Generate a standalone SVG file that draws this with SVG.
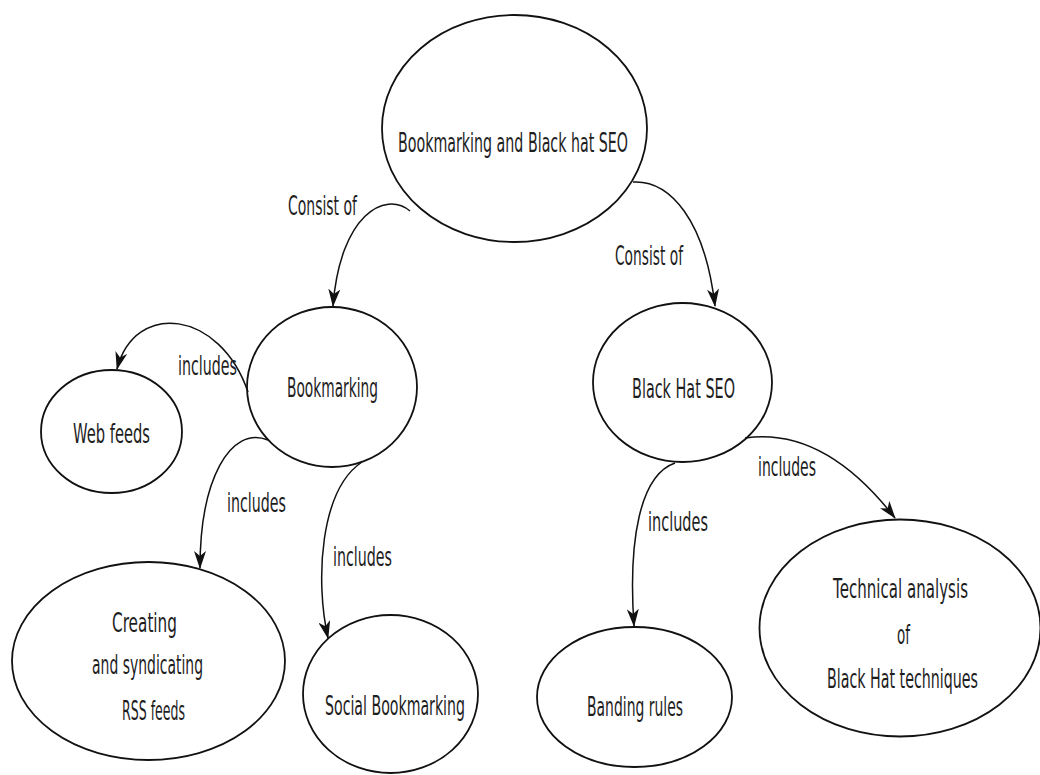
<svg xmlns="http://www.w3.org/2000/svg" width="1040" height="775" viewBox="0 0 1040 775">
  <style>
    .node ellipse { fill: none; stroke: #111; stroke-width: 1.8; }
    .lbl { font-family: "DejaVu Sans", "Liberation Sans", sans-serif; font-size: 27px; fill: #1e1e1e; text-anchor: middle; }
    .edge { fill: none; stroke: #111; stroke-width: 1.5; marker-end: url(#arrow); }
  </style>
  <defs>
    <!-- notched arrowhead shared by every connector -->
    <marker id="arrow" viewBox="0 0 18 12" refX="17" refY="6" markerWidth="18" markerHeight="12" markerUnits="userSpaceOnUse" orient="auto">
      <path d="M0,0 L18,6 L0,12 L5,6 z" fill="#111"/>
    </marker>
  </defs>
  <rect width="1040" height="775" fill="#fff"/>

  <!-- connectors with their labels -->
  <g id="connectors">
    <path class="edge" d="M410,211 C385,190 340,215 333,306"/>
    <text class="lbl" x="322.5" y="215" textLength="69" lengthAdjust="spacingAndGlyphs">Consist of</text>

    <path class="edge" d="M633,182 C670,180 705,220 715,306"/>
    <text class="lbl" x="649" y="265" textLength="68" lengthAdjust="spacingAndGlyphs">Consist of</text>

    <path class="edge" d="M248,392 C220,310 135,300 117,369"/>
    <text class="lbl" x="207.5" y="375" textLength="59" lengthAdjust="spacingAndGlyphs">includes</text>

    <path class="edge" d="M268,440 C230,425 200,480 200,568"/>
    <text class="lbl" x="256.5" y="512" textLength="59" lengthAdjust="spacingAndGlyphs">includes</text>

    <path class="edge" d="M362,462 C320,490 315,580 328,638"/>
    <text class="lbl" x="362.5" y="566" textLength="59" lengthAdjust="spacingAndGlyphs">includes</text>

    <path class="edge" d="M745,438 C800,430 850,460 895,518"/>
    <text class="lbl" x="787" y="476" textLength="58" lengthAdjust="spacingAndGlyphs">includes</text>

    <path class="edge" d="M675,463 C640,475 628,540 634,626"/>
    <text class="lbl" x="678" y="531" textLength="60" lengthAdjust="spacingAndGlyphs">includes</text>
  </g>

  <g id="root" class="node">
    <ellipse cx="514.5" cy="128.5" rx="132.5" ry="113.5"/>
    <text class="lbl" x="513" y="152" textLength="230" lengthAdjust="spacingAndGlyphs">Bookmarking and Black hat SEO</text>
  </g>

  <g id="bookmarking" class="node">
    <ellipse cx="332" cy="387" rx="85" ry="80"/>
    <text class="lbl" x="332.5" y="397" textLength="91" lengthAdjust="spacingAndGlyphs">Bookmarking</text>
  </g>

  <g id="web-feeds" class="node">
    <ellipse cx="111.5" cy="431.5" rx="70.5" ry="61.5"/>
    <text class="lbl" x="111.5" y="443" textLength="77" lengthAdjust="spacingAndGlyphs">Web feeds</text>
  </g>

  <g id="black-hat-seo" class="node">
    <ellipse cx="682.5" cy="382.5" rx="89.5" ry="79.5"/>
    <text class="lbl" x="683.5" y="398" textLength="103" lengthAdjust="spacingAndGlyphs">Black Hat SEO</text>
  </g>

  <g id="rss-feeds" class="node">
    <ellipse cx="148.5" cy="661" rx="136.5" ry="99"/>
    <text class="lbl" x="144.5" y="632" textLength="65" lengthAdjust="spacingAndGlyphs">Creating</text>
    <text class="lbl" x="147.5" y="674" textLength="111" lengthAdjust="spacingAndGlyphs">and syndicating</text>
    <text class="lbl" x="153.5" y="720" textLength="63" lengthAdjust="spacingAndGlyphs">RSS feeds</text>
  </g>

  <g id="social-bookmarking" class="node">
    <ellipse cx="390.5" cy="694" rx="87.5" ry="79"/>
    <text class="lbl" x="395" y="715" textLength="140" lengthAdjust="spacingAndGlyphs">Social Bookmarking</text>
  </g>

  <g id="banding-rules" class="node">
    <ellipse cx="634.5" cy="697" rx="97.5" ry="70"/>
    <text class="lbl" x="635" y="716" textLength="96" lengthAdjust="spacingAndGlyphs">Banding rules</text>
  </g>

  <g id="technical-analysis" class="node">
    <ellipse cx="900" cy="628" rx="140.5" ry="108.5"/>
    <!-- narrow lettering: half-width horizontal scale around the node centre -->
    <g transform="translate(901,0) scale(0.5,1)">
      <text class="lbl" x="-1" y="598" textLength="270" lengthAdjust="spacingAndGlyphs">Technical analysis</text>
      <text class="lbl" x="5" y="644" textLength="26" lengthAdjust="spacingAndGlyphs">of</text>
      <text class="lbl" x="3" y="688" textLength="302" lengthAdjust="spacingAndGlyphs">Black Hat techniques</text>
    </g>
  </g>
</svg>
